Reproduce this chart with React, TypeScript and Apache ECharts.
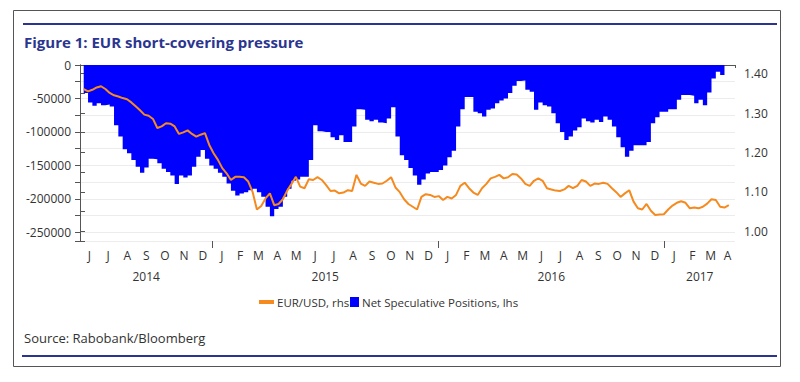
import React, { useEffect, useRef } from 'react';
import * as echarts from 'echarts';

const TITLE = 'Figure 1: EUR short-covering pressure';
const SOURCE = 'Source: Rabobank/Bloomberg';
const SERIES_NAMES = ['EUR/USD, rhs', 'Net Speculative Positions, lhs'];
const MONTH_LETTERS = ['J', 'F', 'M', 'A', 'M', 'J', 'J', 'A', 'S', 'O', 'N', 'D'];
const AXIS_START = '2014-06-01';
const AXIS_END = '2017-04-25';
const FIRST_WEEK = '2014-06-07';

// Weekly net speculative positions (contracts), lhs
const NET_SPEC = [
  -42000, -56000, -61000, -57000, -60000, -59000, -62000, -90000, -107000, -126000,
  -132000, -142000, -152000, -161000, -153000, -140000, -141000, -147000, -155000, -160000,
  -165000, -178000, -165000, -168000, -165000, -152000, -137000, -127000, -140000, -150000,
  -155000, -161000, -167000, -177000, -188000, -195000, -192000, -190000, -187000, -185000,
  -190000, -197000, -212000, -226000, -215000, -212000, -197000, -185000, -173000, -171000,
  -167000, -167000, -142000, -90000, -99000, -100000, -100000, -108000, -112000, -105000,
  -115000, -115000, -92000, -66000, -67000, -82000, -84000, -82000, -86000, -87000,
  -80000, -63000, -107000, -135000, -142000, -154000, -165000, -179000, -171000, -162000,
  -160000, -160000, -157000, -150000, -138000, -128000, -92000, -66000, -48000, -48000,
  -70000, -72000, -77000, -67000, -65000, -57000, -53000, -50000, -42000, -31000,
  -24000, -23000, -37000, -40000, -67000, -56000, -60000, -62000, -72000, -87000,
  -100000, -112000, -107000, -98000, -93000, -80000, -84000, -86000, -82000, -85000,
  -77000, -82000, -92000, -108000, -123000, -137000, -128000, -120000, -120000, -120000,
  -115000, -87000, -78000, -70000, -70000, -66000, -66000, -52000, -45000, -45000,
  -46000, -57000, -52000, -60000, -41000, -20000, -10000, -15000, -17000,
];

// Weekly EUR/USD, rhs
const EURUSD = [
  1.361, 1.355, 1.359, 1.365, 1.368, 1.361, 1.351, 1.345, 1.342, 1.338,
  1.335, 1.327, 1.317, 1.307, 1.296, 1.293, 1.285, 1.262, 1.266, 1.274,
  1.273, 1.266, 1.247, 1.251, 1.256, 1.247, 1.240, 1.245, 1.249, 1.219,
  1.198, 1.181, 1.160, 1.147, 1.130, 1.138, 1.138, 1.137, 1.126, 1.100,
  1.055, 1.064, 1.083, 1.096, 1.066, 1.069, 1.081, 1.103, 1.120, 1.138,
  1.113, 1.109, 1.132, 1.130, 1.137, 1.130, 1.117, 1.102, 1.103, 1.096,
  1.098, 1.104, 1.102, 1.143, 1.121, 1.115, 1.126, 1.123, 1.120, 1.121,
  1.128, 1.137, 1.111, 1.099, 1.081, 1.069, 1.062, 1.055, 1.087, 1.094,
  1.092, 1.087, 1.089, 1.079, 1.087, 1.083, 1.092, 1.115, 1.123, 1.109,
  1.098, 1.092, 1.109, 1.120, 1.134, 1.138, 1.143, 1.134, 1.137, 1.145,
  1.144, 1.134, 1.120, 1.115, 1.128, 1.134, 1.128, 1.109, 1.106, 1.103,
  1.102, 1.106, 1.115, 1.109, 1.115, 1.130, 1.126, 1.115, 1.121, 1.120,
  1.123, 1.120, 1.109, 1.099, 1.087, 1.096, 1.104, 1.075, 1.058, 1.055,
  1.069, 1.052, 1.041, 1.042, 1.043, 1.055, 1.065, 1.072, 1.076, 1.072,
  1.058, 1.060, 1.058, 1.062, 1.070, 1.081, 1.079, 1.062, 1.060, 1.066,
];

const DAY_MS = 86400000;
const parse = (s: string) => {
  const [y, m, d] = s.split('-').map(Number);
  return Date.UTC(y, m - 1, d);
};
const BASE = parse(AXIS_START);
const toDay = (ms: number) => (ms - BASE) / DAY_MS;
const END_DAY = toDay(parse(AXIS_END));
const FIRST_DAY = toDay(parse(FIRST_WEEK));

const weekDay = (i: number) => FIRST_DAY + 7 * i;

const monthTicks: number[] = [];
const monthCenters: number[] = [];
const monthLabels: string[] = [];
const yearTicks: number[] = [];
const yearCenters: number[] = [];
const yearLabels: string[] = [];
{
  const b = new Date(BASE);
  let y = b.getUTCFullYear();
  let m = b.getUTCMonth();
  let yearStart = 0;
  let curYear = y;
  while (true) {
    const s = toDay(Date.UTC(y, m, 1));
    if (s >= END_DAY) break;
    monthTicks.push(s);
    const nm = (m + 1) % 12;
    const ny = m === 11 ? y + 1 : y;
    const e = Math.min(toDay(Date.UTC(ny, nm, 1)), END_DAY);
    monthCenters.push((s + e) / 2);
    monthLabels.push(MONTH_LETTERS[m]);
    if (ny !== y || e >= END_DAY) {
      yearCenters.push((Math.max(yearStart, 0) + e) / 2);
      yearLabels.push(String(curYear));
      if (ny !== y && e < END_DAY) yearTicks.push(e);
      yearStart = e;
      curYear = ny;
    }
    y = ny;
    m = nm;
  }
  monthTicks.push(END_DAY);
}

const nearestLabel = (v: number, vals: number[], labels: string[]) => {
  let best = 0;
  for (let i = 1; i < vals.length; i++) {
    if (Math.abs(vals[i] - v) < Math.abs(vals[best] - v)) best = i;
  }
  return Math.abs(vals[best] - v) < 1 ? labels[best] : '';
};

const FONT = '"Open Sans", "DejaVu Sans", sans-serif';
const NAVY = '#2b3590';
const ORANGE = '#f58a1f';
const BLUE = '#0000ff';
const AXIS_COLOR = '#555555';
const TEXT_COLOR = '#333333';

export default function App() {
  const ref = useRef<HTMLDivElement>(null);
  useEffect(() => {
    if (!ref.current) return;
    const chart = echarts.init(ref.current, undefined, { renderer: 'svg' });
    const blueData = NET_SPEC.map((v, i) => [weekDay(i), v]);
    const orangeData = EURUSD.map((v, i) => [weekDay(i), v]);
    chart.setOption({
      animation: false,
      textStyle: { fontFamily: FONT },
      grid: { left: 80, right: 65, top: 65, bottom: 141 },
      xAxis: [
        {
          type: 'value',
          min: 0,
          max: END_DAY,
          axisLine: { show: true, lineStyle: { color: AXIS_COLOR, width: 1 } },
          axisTick: { show: true, customValues: monthTicks, length: 3, lineStyle: { color: AXIS_COLOR } },
          axisLabel: {
            customValues: monthCenters,
            formatter: (v: number) => nearestLabel(v, monthCenters, monthLabels),
            color: TEXT_COLOR,
            fontSize: 12,
            margin: 8,
            fontFamily: FONT,
          },
          splitLine: { show: false },
        },
        {
          type: 'value',
          min: 0,
          max: END_DAY,
          position: 'bottom',
          offset: 0,
          axisLine: { show: false },
          axisTick: { show: true, customValues: yearTicks, length: 7, lineStyle: { color: AXIS_COLOR } },
          axisLabel: {
            customValues: yearCenters,
            formatter: (v: number) => nearestLabel(v, yearCenters, yearLabels),
            color: TEXT_COLOR,
            fontSize: 12,
            margin: 29,
            fontFamily: FONT,
          },
          splitLine: { show: false },
        },
      ],
      yAxis: [
        {
          type: 'value',
          position: 'left',
          min: -263000,
          max: 0,
          splitNumber: 5,
          axisLine: { show: true, lineStyle: { color: AXIS_COLOR } },
          axisTick: { show: true, length: 5, lineStyle: { color: AXIS_COLOR } },
          minorTick: { show: true, splitNumber: 2, length: 5, lineStyle: { color: AXIS_COLOR } },
          splitLine: { show: true, lineStyle: { color: '#ececec' } },
          minorSplitLine: { show: true, lineStyle: { color: '#ececec' } },
          axisLabel: {
            showMinLabel: false,
            formatter: (v: number) => String(v),
            color: TEXT_COLOR,
            fontSize: 12,
            margin: 9,
            fontFamily: FONT,
          },
        },
        {
          type: 'value',
          position: 'right',
          min: 0.975,
          max: 1.422,
          splitNumber: 5,
          axisLine: { show: true, lineStyle: { color: AXIS_COLOR } },
          axisTick: { show: true, length: 5, lineStyle: { color: AXIS_COLOR } },
          minorTick: { show: true, splitNumber: 2, length: 5, lineStyle: { color: AXIS_COLOR } },
          splitLine: { show: false },
          axisLabel: {
            showMinLabel: false,
            showMaxLabel: false,
            formatter: (v: number) => v.toFixed(2),
            color: TEXT_COLOR,
            fontSize: 12,
            margin: 9,
            fontFamily: FONT,
          },
        },
      ],
      series: [
        {
          name: SERIES_NAMES[1],
          type: 'line',
          xAxisIndex: 0,
          yAxisIndex: 0,
          step: 'end',
          data: blueData,
          symbol: 'none',
          lineStyle: { width: 0, color: BLUE },
          itemStyle: { color: BLUE },
          areaStyle: { color: BLUE, opacity: 1 },
          z: 2,
        },
        {
          name: SERIES_NAMES[0],
          type: 'line',
          xAxisIndex: 0,
          yAxisIndex: 1,
          data: orangeData,
          symbol: 'none',
          lineStyle: { width: 2, color: ORANGE },
          itemStyle: { color: ORANGE },
          z: 3,
        },
      ],
      graphic: [
        {
          type: 'rect',
          shape: { x: 13.5, y: 10.5, width: 767, height: 356 },
          style: { fill: 'none', stroke: '#555555', lineWidth: 1 },
          silent: true,
        },
        {
          type: 'line',
          shape: { x1: 23, y1: 24, x2: 777, y2: 24 },
          style: { stroke: NAVY, lineWidth: 2 },
        },
        {
          type: 'line',
          shape: { x1: 22, y1: 356, x2: 777, y2: 356 },
          style: { stroke: NAVY, lineWidth: 2 },
        },
        {
          type: 'text',
          x: 24,
          y: 42,
          style: {
            text: TITLE,
            fill: NAVY,
            font: `bold 15px ${FONT}`,
            textVerticalAlign: 'middle',
          },
        },
        {
          type: 'rect',
          shape: { x: 259, y: 300, width: 15, height: 4 },
          style: { fill: ORANGE },
        },
        {
          type: 'text',
          x: 277,
          y: 302,
          style: { text: SERIES_NAMES[0], fill: TEXT_COLOR, font: `11.5px ${FONT}`, textVerticalAlign: 'middle' },
        },
        {
          type: 'rect',
          shape: { x: 350, y: 297, width: 9, height: 10 },
          style: { fill: BLUE },
        },
        {
          type: 'text',
          x: 362,
          y: 302,
          style: { text: SERIES_NAMES[1], fill: TEXT_COLOR, font: `11.5px ${FONT}`, textVerticalAlign: 'middle' },
        },
        {
          type: 'text',
          x: 24,
          y: 338,
          style: { text: SOURCE, fill: TEXT_COLOR, font: `13px ${FONT}`, textVerticalAlign: 'middle' },
        },
      ],
    });
    return () => chart.dispose();
  }, []);
  return (
    <div
      ref={ref}
      style={{ position: 'fixed', left: 0, top: 0, width: 800, height: 382, background: '#ffffff' }}
    />
  );
}
